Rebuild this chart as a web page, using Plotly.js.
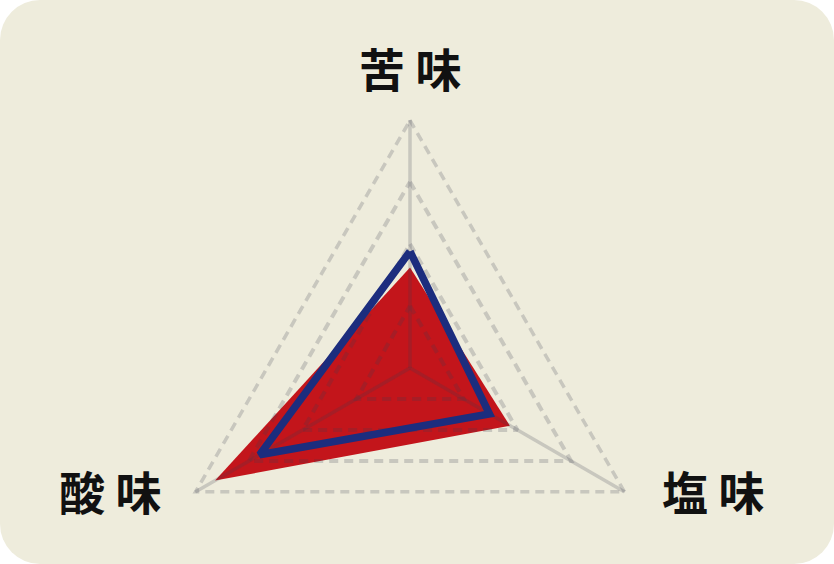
<!DOCTYPE html>
<html>
<head>
<meta charset="utf-8">
<script src="https://cdn.plot.ly/plotly-3.0.1.min.js"></script>
<style>
  html, body { margin: 0; padding: 0; background: #ffffff; overflow: hidden; }
  #card { width: 834px; height: 564px; border-radius: 40px; background: #eeecdc; overflow: hidden; position: relative; }
  #radar { width: 834px; height: 640px; }
</style>
</head>
<body>
<div id="card"><div id="radar"></div></div>
<script>
// taste axes, clockwise from the top
var tastes = ['苦味', '塩味', '酸味'];
var labels = ['苦 味', '塩 味', '酸 味'];
var gridLevels = [1, 2, 3, 4];

var redScores = [1.62, 1.86, 3.63];
var blueScores = [1.88, 1.48, 2.8];

var W = 834, H = 640;
var gridColor = 'rgba(60,60,80,0.21)';

var close = function (arr) { return arr.concat([arr[0]]); };

var red = {
  type: 'scatterpolar',
  r: close(redScores),
  theta: close(tastes),
  mode: 'lines',
  fill: 'toself',
  fillcolor: '#c3151b',
  line: {width: 0, color: '#c3151b'},
  hoverinfo: 'skip'
};

// grid is drawn as traces so that it shows on top of the red fill
var rings = gridLevels.map(function (k) {
  return {
    type: 'scatterpolar',
    r: close(tastes.map(function () { return k; })),
    theta: close(tastes),
    mode: 'lines',
    line: {width: 4, color: gridColor, dash: '9px,6px'},
    hoverinfo: 'skip'
  };
});

var spokes = tastes.map(function (t) {
  return {
    type: 'scatterpolar',
    r: [0, gridLevels[gridLevels.length - 1]],
    theta: [t, t],
    mode: 'lines',
    line: {width: 3.5, color: gridColor},
    hoverinfo: 'skip'
  };
});

var blue = {
  type: 'scatterpolar',
  r: close(blueScores),
  theta: close(tastes),
  mode: 'lines',
  line: {width: 7.5, color: '#1c2d7e'},
  hoverinfo: 'skip'
};

// label centres in pixels
var labelPos = [[410, 67], [713, 490], [110, 490]];
var annotations = labels.map(function (t, i) {
  return {
    text: t,
    xref: 'paper', yref: 'paper',
    x: labelPos[i][0] / W,
    y: 1 - labelPos[i][1] / H,
    xanchor: 'center', yanchor: 'middle',
    showarrow: false,
    font: {family: 'Noto Sans CJK JP', size: 46, color: '#111111', weight: 'bold'}
  };
});

// centre (410, 368); value 4 sits ~248 px out, a little slack so the outer ring is not clipped
var rMax = 4.05;
var R = 248 * rMax / 4;
var layout = {
  width: W,
  height: H,
  margin: {l: 0, r: 0, t: 0, b: 0},
  paper_bgcolor: 'rgba(0,0,0,0)',
  showlegend: false,
  polar: {
    domain: {x: [(410 - R) / W, (410 + R) / W], y: [1 - (368 + R) / H, 1 - (368 - R) / H]},
    bgcolor: 'rgba(0,0,0,0)',
    gridshape: 'linear',
    radialaxis: {
      range: [0, rMax],
      showticklabels: false,
      ticks: '',
      showline: false,
      showgrid: false
    },
    angularaxis: {
      rotation: 90,
      direction: 'clockwise',
      showticklabels: false,
      ticks: '',
      showline: false,
      showgrid: false
    }
  },
  annotations: annotations
};

Plotly.newPlot('radar', [red].concat(rings, spokes, [blue]), layout, {staticPlot: true});
</script>
</body>
</html>
